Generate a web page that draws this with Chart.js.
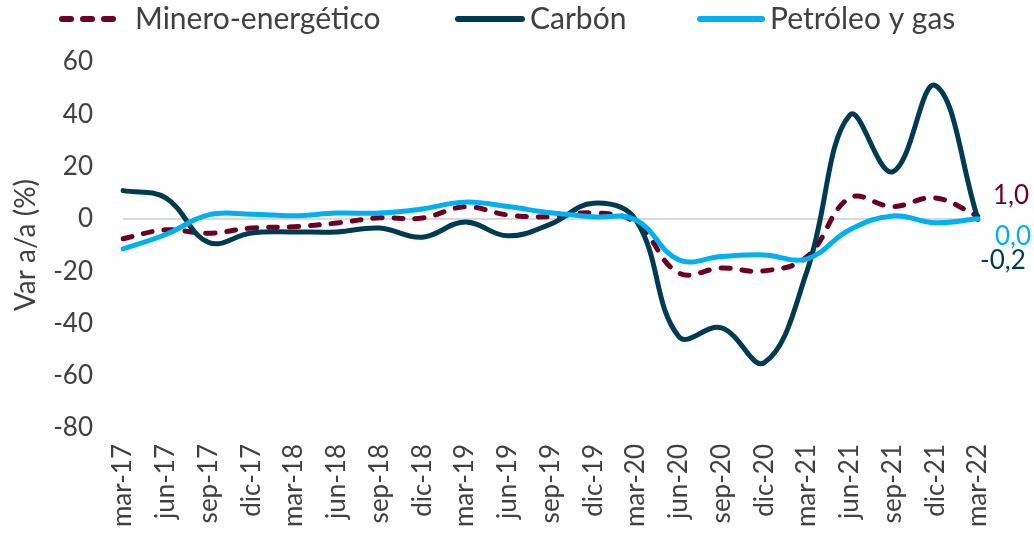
<!DOCTYPE html>
<html>
<head>
<meta charset="utf-8">
<script src="https://cdn.jsdelivr.net/npm/chart.js@4.4.1/dist/chart.umd.min.js"></script>
<style>
  html, body { margin: 0; padding: 0; background: #ffffff; }
  #wrap { width: 1034px; height: 549px; position: relative; }
</style>
</head>
<body>
<div id="wrap"><canvas id="c" width="1034" height="549"></canvas></div>
<script>
const categories = ["mar-17","jun-17","sep-17","dic-17","mar-18","jun-18","sep-18","dic-18","mar-19","jun-19","sep-19","dic-19","mar-20","jun-20","sep-20","dic-20","mar-21","jun-21","sep-21","dic-21","mar-22"];
const mineroEnergetico = [-7.6,-4.2,-5.5,-3.5,-3.0,-1.6,0.4,0.3,4.6,1.5,0.8,2.3,-1.5,-20.7,-18.8,-19.9,-14.5,8.0,4.7,8.0,1.0];
const carbon = [10.8,8.0,-9.0,-5.4,-5.0,-5.0,-3.5,-7.0,-1.2,-6.5,-2.0,6.0,-0.5,-45.0,-41.7,-55.0,-20.0,39.7,18.0,51.0,-0.2];
const petroleoGas = [-11.5,-6.0,1.5,1.8,1.2,2.2,2.2,3.8,6.4,4.7,2.3,0.8,-0.4,-15.7,-14.4,-13.8,-15.3,-4.2,1.1,-1.5,0.0];
const yTicks = [60,40,20,0,-20,-40,-60,-80];
const endLabels = ["1,0","-0,2","0,0"];

const FONT = "Lato, 'Open Sans', sans-serif";
const C_MIN = "#6B0022";
const C_CAR = "#003B52";
const C_PET = "#00B0F0";

const endLabelPlugin = {
  id: 'endLabels',
  afterDatasetsDraw(chart, args, opts) {
    const ctx = chart.ctx;
    ctx.save();
    ctx.font = "26px " + FONT;
    ctx.textBaseline = "middle";
    ctx.textAlign = "left";
    chart.data.datasets.forEach((ds, i) => {
      const meta = chart.getDatasetMeta(i);
      const pt = meta.data[meta.data.length - 1];
      const off = opts.offsets[i];
      ctx.fillStyle = ds.borderColor;
      ctx.fillText(endLabels[i], pt.x + off[0], pt.y + off[1]);
    });
    ctx.restore();
  }
};

const legendPlugin = {
  id: 'topLegend',
  afterDraw(chart, args, opts) {
    const ctx = chart.ctx;
    ctx.save();
    ctx.font = opts.fontSize + "px " + FONT;
    ctx.textBaseline = "middle";
    ctx.textAlign = "left";
    chart.data.datasets.forEach((ds, i) => {
      const it = opts.items[i];
      ctx.strokeStyle = ds.borderColor;
      ctx.lineWidth = ds.borderWidth + 1;
      ctx.lineCap = 'round';
      ctx.setLineDash(ds.borderDash || []);
      ctx.beginPath();
      ctx.moveTo(it[0], opts.y);
      ctx.lineTo(it[1], opts.y);
      ctx.stroke();
      ctx.setLineDash([]);
      ctx.fillStyle = '#404040';
      ctx.fillText(ds.label, it[2], opts.y);
    });
    ctx.restore();
  }
};

new Chart(document.getElementById('c'), {
  type: 'line',
  data: {
    labels: categories,
    datasets: [
      { label: "Minero-energético", data: mineroEnergetico, borderColor: C_MIN, backgroundColor: C_MIN,
        borderWidth: 5, borderDash: [9, 12], borderCapStyle: 'round', pointRadius: 0, tension: 0.4, order: 3 },
      { label: "Carbón", data: carbon, borderColor: C_CAR, backgroundColor: C_CAR,
        borderWidth: 5, borderCapStyle: 'round', pointRadius: 0, tension: 0.4, order: 2 },
      { label: "Petróleo y gas", data: petroleoGas, borderColor: C_PET, backgroundColor: C_PET,
        borderWidth: 5, borderCapStyle: 'round', pointRadius: 0, tension: 0.4, order: 1 }
    ]
  },
  options: {
    responsive: false,
    animation: false,
    devicePixelRatio: 1,
    layout: { padding: { top: 62, right: 56, left: 0, bottom: 0 } },
    plugins: {
      legend: { display: false },
      tooltip: { enabled: false },
      endLabels: { offsets: [[15, -21], [2, 41], [17, 18]] },
      topLegend: { y: 19, fontSize: 30, items: [[62, 123, 135], [458, 522, 530], [700, 762, 770]] }
    },
    scales: {
      x: {
        offset: false,
        grid: { display: false, drawTicks: false },
        border: { display: false },
        ticks: {
          autoSkip: false, maxRotation: 90, minRotation: 90, padding: 16,
          color: '#404040', font: { family: FONT, size: 26 }
        },
        afterFit(scale) { scale.height = 121; }
      },
      y: {
        min: -80, max: 60,
        afterBuildTicks(scale) { scale.ticks = yTicks.map(v => ({ value: v })); },
        grid: {
          drawTicks: false,
          color: (c) => (c.tick && c.tick.value === 0) ? '#D9D9D9' : 'rgba(0,0,0,0)',
          lineWidth: 2
        },
        border: { display: false },
        ticks: { padding: 30, color: '#404040', font: { family: FONT, size: 26 } },
        title: { display: true, text: 'Var a/a (%)', color: '#404040', font: { family: FONT, size: 28 }, padding: { top: 9, bottom: 0 } },
        afterFit(scale) { scale.width = 123; }
      }
    }
  },
  plugins: [endLabelPlugin, legendPlugin]
});
</script>
</body>
</html>
